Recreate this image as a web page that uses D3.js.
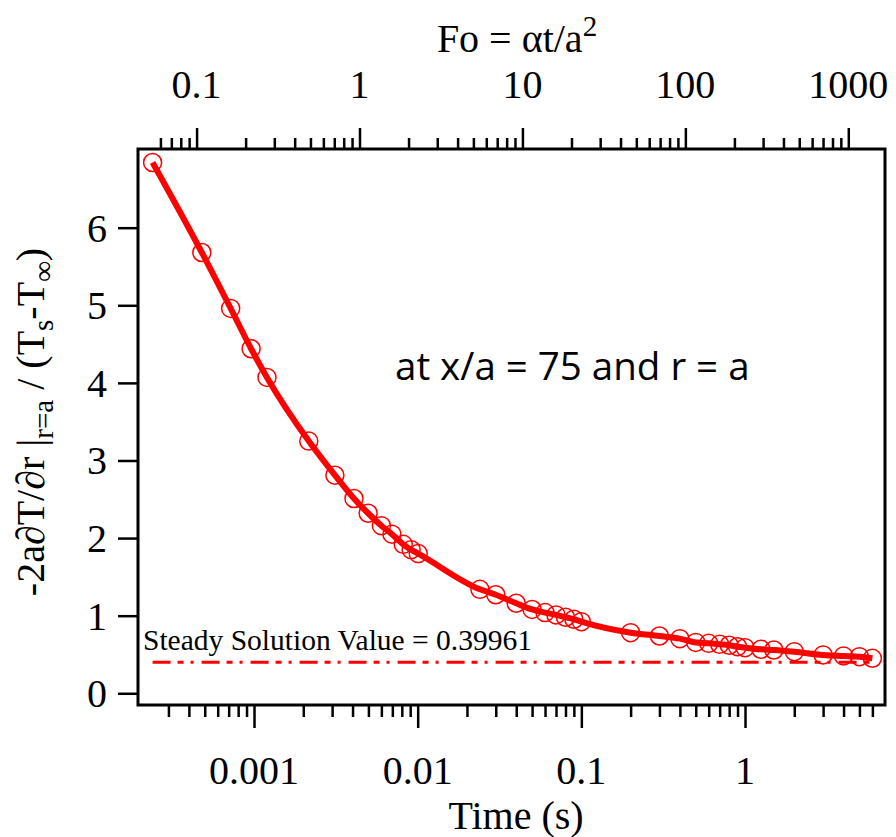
<!DOCTYPE html>
<html>
<head>
<meta charset="utf-8">
<script src="https://cdn.jsdelivr.net/npm/d3@7"></script>
<style>
  body { margin: 0; background: #fff; }
  svg { display: block; }
  text { font-family: "Liberation Serif", "Times New Roman", serif; fill: #000; }
</style>
</head>
<body>
<svg id="chart"></svg>
<script>
const width = 896;
const height = 837;

// time (s) of each sample
const timeS = [0.00024, 0.00048, 0.00072, 0.00096, 0.0012, 0.00216, 0.00312, 0.00408, 0.00498, 0.006,
  0.00696, 0.00816, 0.00912, 0.01008, 0.024, 0.03, 0.04, 0.05, 0.06, 0.07,
  0.08, 0.09, 0.1, 0.2, 0.3, 0.4, 0.5, 0.6, 0.7, 0.8,
  0.9, 1.0, 1.25, 1.5, 2.0, 3.0, 4.0, 5.0, 6.0];
// -2a dT/dr |r=a / (Ts - Tinf)
const gradValue = [6.84, 5.68, 4.96, 4.44, 4.07, 3.25, 2.81, 2.51, 2.32, 2.16,
  2.05, 1.92, 1.85, 1.80, 1.34, 1.27, 1.16, 1.08, 1.04, 1.01,
  0.98, 0.954, 0.923, 0.781, 0.738, 0.704, 0.655, 0.644, 0.631, 0.619,
  0.600, 0.588, 0.567, 0.558, 0.536, 0.494, 0.481, 0.472, 0.451];
const steadyValue = 0.39961;

const timeTicks = [0.001, 0.01, 0.1, 1];
const timeTickLabels = ['0.001', '0.01', '0.1', '1'];
const foTicks = [0.1, 1, 10, 100, 1000];
const foTickLabels = ['0.1', '1', '10', '100', '1000'];
const yTicks = [0, 1, 2, 3, 4, 5, 6];

const plot = { left: 138, right: 885, top: 149, bottom: 705 };

const svg = d3.select('#chart')
  .attr('width', width)
  .attr('height', height);

const xScale = d3.scaleLog()
  .domain([1.955e-4, 7.166])
  .range([plot.left, plot.right]);

const foScale = d3.scaleLog()
  .domain([0.0437, 1680])
  .range([plot.left, plot.right]);

const yScale = d3.scaleLinear()
  .domain([-0.151, 7.014])
  .range([plot.bottom, plot.top]);

// keep minor ticks away from the frame corners
const inside = (s) => (v) => s(v) > plot.left + 12 && s(v) < plot.right - 12;

// bottom axis: minor then major ticks
const xMinor = xScale.ticks().filter(inside(xScale)).filter(v => !timeTicks.includes(v));
svg.append('g')
  .attr('transform', `translate(0, ${plot.bottom})`)
  .call(d3.axisBottom(xScale).tickValues(xMinor).tickSize(12).tickSizeOuter(0).tickFormat(''))
  .call(g => g.select('.domain').remove())
  .call(g => g.selectAll('line').attr('stroke-width', 2.5));
svg.append('g')
  .attr('transform', `translate(0, ${plot.bottom})`)
  .call(d3.axisBottom(xScale).tickValues(timeTicks).tickSize(23).tickSizeOuter(0).tickFormat(''))
  .call(g => g.select('.domain').remove())
  .call(g => g.selectAll('line').attr('stroke-width', 2.5));
svg.append('g').selectAll('text')
  .data(timeTicks)
  .enter()
  .append('text')
  .attr('x', d => xScale(d))
  .attr('y', 784)
  .attr('text-anchor', 'middle')
  .attr('font-size', 40)
  .text((d, i) => timeTickLabels[i]);

// top axis (Fourier number)
const foMinor = foScale.ticks().filter(inside(foScale)).filter(v => !foTicks.includes(v));
svg.append('g')
  .attr('transform', `translate(0, ${plot.top})`)
  .call(d3.axisTop(foScale).tickValues(foMinor).tickSize(11).tickSizeOuter(0).tickFormat(''))
  .call(g => g.select('.domain').remove())
  .call(g => g.selectAll('line').attr('stroke-width', 2.5));
svg.append('g')
  .attr('transform', `translate(0, ${plot.top})`)
  .call(d3.axisTop(foScale).tickValues(foTicks).tickSize(21).tickSizeOuter(0).tickFormat(''))
  .call(g => g.select('.domain').remove())
  .call(g => g.selectAll('line').attr('stroke-width', 2.5));
svg.append('g').selectAll('text')
  .data(foTicks)
  .enter()
  .append('text')
  .attr('x', d => foScale(d))
  .attr('y', 98)
  .attr('text-anchor', 'middle')
  .attr('font-size', 40)
  .text((d, i) => foTickLabels[i]);

// left axis
svg.append('g')
  .attr('transform', `translate(${plot.left}, 0)`)
  .call(d3.axisLeft(yScale).tickValues(yTicks).tickSize(20).tickSizeOuter(0).tickFormat(''))
  .call(g => g.select('.domain').remove())
  .call(g => g.selectAll('line').attr('stroke-width', 2.5));
svg.append('g').selectAll('text')
  .data(yTicks)
  .enter()
  .append('text')
  .attr('x', 107)
  .attr('y', d => yScale(d))
  .attr('dy', '0.35em')
  .attr('text-anchor', 'end')
  .attr('font-size', 40)
  .text(d => d);

// frame
svg.append('rect')
  .attr('x', plot.left)
  .attr('y', plot.top)
  .attr('width', plot.right - plot.left)
  .attr('height', plot.bottom - plot.top)
  .attr('fill', 'none')
  .attr('stroke', '#000')
  .attr('stroke-width', 3);

// steady solution line
svg.append('line')
  .attr('x1', xScale(timeS[0]))
  .attr('x2', xScale(timeS[timeS.length - 1]))
  .attr('y1', yScale(steadyValue))
  .attr('y2', yScale(steadyValue))
  .attr('stroke', '#ff0000')
  .attr('stroke-width', 3)
  .attr('stroke-dasharray', '18 7 6 7 3 8');

svg.append('text')
  .attr('x', 143)
  .attr('y', 650)
  .attr('font-size', 29.5)
  .text('Steady Solution Value = ' + steadyValue);

// curve and markers
const line = d3.line()
  .x((d, i) => xScale(timeS[i]))
  .y(d => yScale(d))
  .curve(d3.curveMonotoneX);

svg.append('path')
  .datum(gradValue)
  .attr('d', line)
  .attr('fill', 'none')
  .attr('stroke', '#ff0000')
  .attr('stroke-width', 6);

svg.append('g').selectAll('circle')
  .data(gradValue)
  .enter()
  .append('circle')
  .attr('cx', (d, i) => xScale(timeS[i]))
  .attr('cy', d => yScale(d))
  .attr('r', 9)
  .attr('fill', 'none')
  .attr('stroke', '#ff0000')
  .attr('stroke-width', 1.5);

// annotation
svg.append('text')
  .attr('x', 395)
  .attr('y', 380)
  .style('font-family', '"Open Sans", sans-serif')
  .attr('font-size', 38.5)
  .text('at x/a = 75 and r = a');

// axis titles
const topTitle = svg.append('text')
  .attr('x', 517)
  .attr('y', 52)
  .attr('text-anchor', 'middle')
  .attr('font-size', 40);
topTitle.append('tspan').text('Fo = αt/a');
topTitle.append('tspan').attr('font-size', 29).attr('dy', -16).text('2');

svg.append('text')
  .attr('x', 516)
  .attr('y', 829)
  .attr('text-anchor', 'middle')
  .attr('font-size', 40)
  .text('Time (s)');

const yTitle = svg.append('text')
  .attr('transform', 'translate(44, 422) rotate(-90)')
  .attr('text-anchor', 'middle')
  .attr('font-size', 40);
yTitle.append('tspan').text('-2a∂T/∂r |');
yTitle.append('tspan').attr('font-size', 29).attr('dy', 9).text('r=a');
yTitle.append('tspan').attr('dy', -9).text(' / (T');
yTitle.append('tspan').attr('font-size', 29).attr('dy', 9).text('s');
yTitle.append('tspan').attr('dy', -9).text('-T');
yTitle.append('tspan').attr('font-size', 29).attr('dy', 9).text('∞');
yTitle.append('tspan').attr('dy', -9).text(')');
</script>
</body>
</html>
